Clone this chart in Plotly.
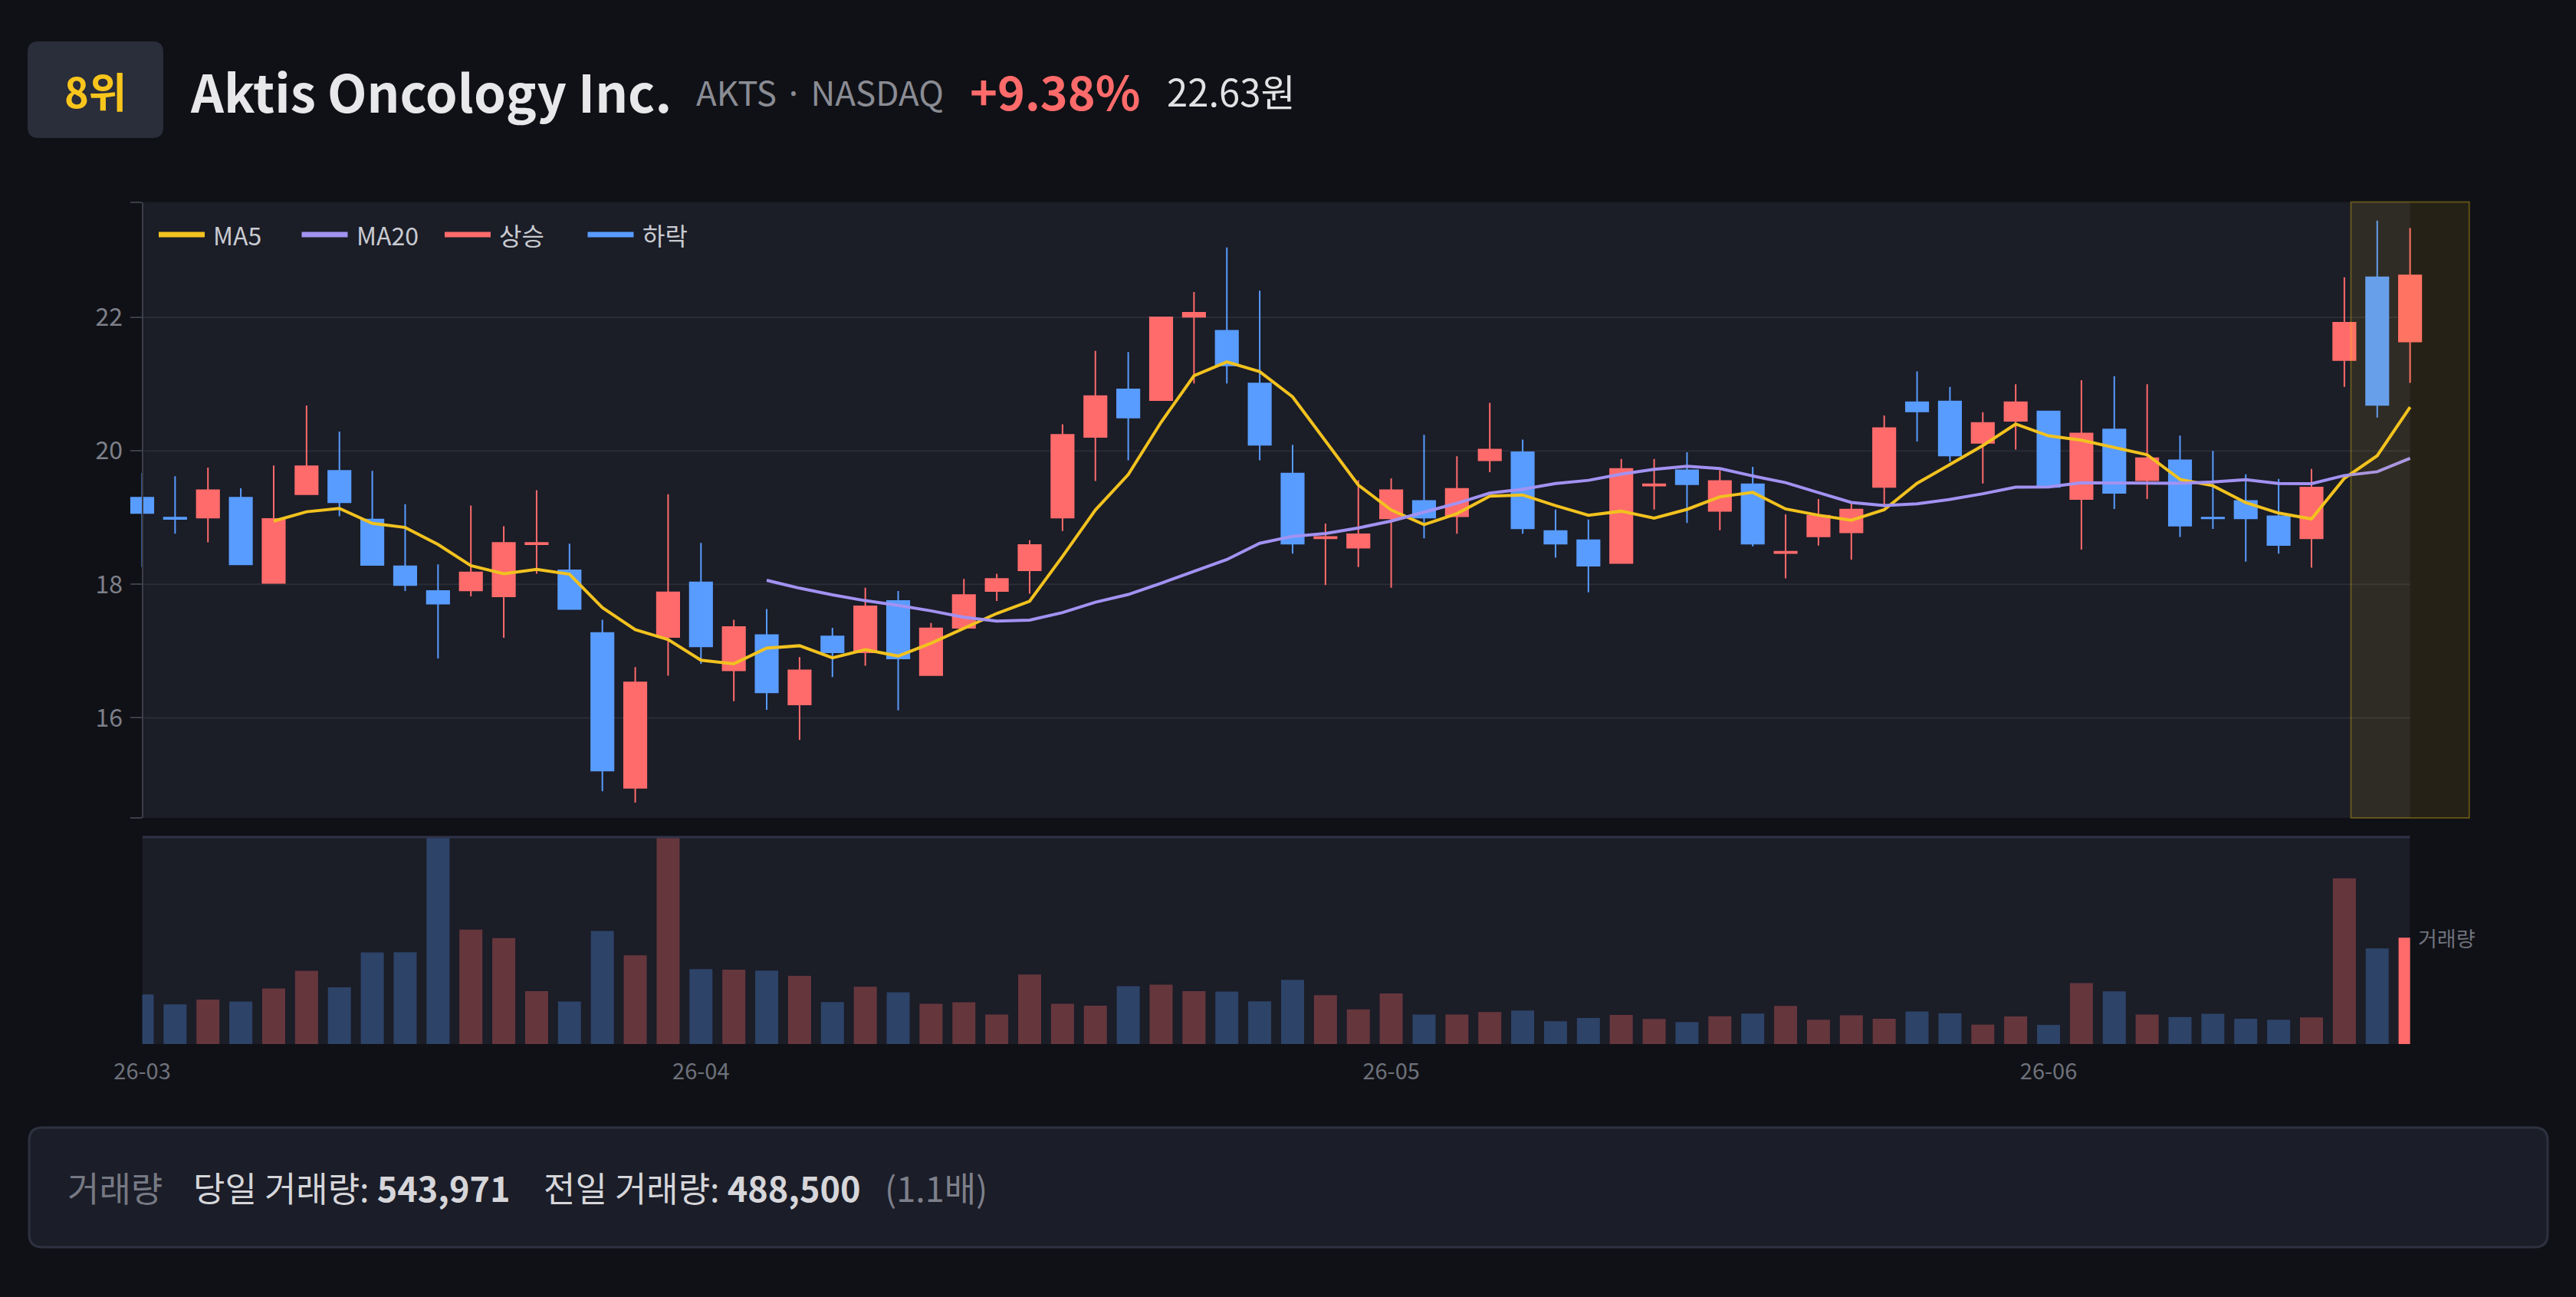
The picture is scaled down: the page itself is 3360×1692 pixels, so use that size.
import pandas as pd
import plotly.graph_objects as go

# ---- data ------------------------------------------------------------------
# trading days 2026-03-09 .. 2026-06-16 (Good Friday and Memorial Day closed)
holidays = ["2026-04-03", "2026-05-25"]
dates = [d.strftime("%Y-%m-%d") for d in pd.bdate_range("2026-03-09", "2026-06-16")
         if d.strftime("%Y-%m-%d") not in holidays]

open_ = [19.30, 19.00, 19.00, 19.30, 18.02, 19.35, 19.70, 18.97, 18.27, 17.90,
         17.91, 17.82, 18.60, 18.21, 17.27, 14.95, 17.21, 18.03, 16.71, 17.24,
         16.20, 17.22, 16.98, 17.75, 16.64, 17.35, 17.90, 18.21, 19.00, 20.21,
         20.92, 20.76, 22.01, 21.80, 21.01, 19.66, 18.69, 18.55, 18.99, 19.25,
         19.02, 19.86, 19.98, 18.80, 18.66, 18.32, 19.48, 19.71, 19.10, 19.50,
         18.47, 18.72, 18.78, 19.46, 20.73, 20.74, 20.12, 20.45, 20.59, 19.28,
         20.32, 19.56, 19.86, 19.00, 19.25, 19.02, 18.69, 21.36, 22.60, 21.64]
high = [19.67, 19.62, 19.75, 19.44, 19.78, 20.68, 20.29, 19.70, 19.20, 18.30,
        19.18, 18.87, 19.41, 18.61, 17.47, 16.76, 19.35, 18.62, 17.47, 17.63,
        16.91, 17.35, 17.95, 17.90, 17.42, 18.08, 18.16, 18.66, 20.40, 21.50,
        21.48, 22.01, 22.38, 23.05, 22.40, 20.09, 18.91, 19.56, 19.59, 20.24,
        19.92, 20.72, 20.17, 19.12, 18.97, 19.88, 19.88, 19.98, 19.71, 19.76,
        19.05, 19.28, 19.22, 20.53, 21.19, 20.96, 20.58, 21.00, 20.60, 21.06,
        21.12, 21.00, 20.23, 20.00, 19.65, 19.58, 19.73, 22.60, 23.45, 23.34]
low = [18.26, 18.76, 18.63, 18.29, 18.01, 19.34, 19.02, 18.28, 17.90, 16.89,
       17.82, 17.20, 18.16, 17.62, 14.90, 14.73, 16.63, 16.81, 16.25, 16.12,
       15.67, 16.61, 16.78, 16.11, 16.63, 17.34, 17.75, 17.86, 18.80, 19.55,
       19.86, 20.75, 21.01, 21.01, 19.86, 18.46, 17.99, 18.26, 17.95, 18.69,
       18.76, 19.68, 18.76, 18.40, 17.88, 18.31, 19.12, 18.92, 18.81, 18.57,
       18.09, 18.58, 18.37, 19.16, 20.14, 19.84, 19.51, 20.02, 19.45, 18.52,
       19.13, 19.28, 18.71, 18.83, 18.34, 18.46, 18.25, 20.96, 20.50, 21.02]
close = [19.07, 18.98, 19.41, 18.30, 18.98, 19.77, 19.23, 18.29, 17.99, 17.71,
         18.18, 18.62, 18.62, 17.63, 15.21, 16.53, 17.88, 17.07, 17.36, 16.38,
         16.71, 16.98, 17.67, 16.89, 17.34, 17.84, 18.08, 18.59, 20.24, 20.82,
         20.50, 22.00, 22.07, 21.28, 20.09, 18.61, 18.71, 18.75, 19.41, 19.00,
         19.43, 20.02, 18.84, 18.61, 18.28, 19.73, 19.50, 19.50, 19.55, 18.61,
         18.49, 19.03, 19.12, 20.34, 20.59, 19.93, 20.42, 20.73, 19.46, 20.26,
         19.37, 19.89, 18.88, 18.99, 18.99, 18.59, 19.45, 21.92, 20.69, 22.63]
volume = [253700, 202700, 227500, 217100, 283800, 374000, 290300, 468100, 469400, 1412000,
          584500, 541300, 270700, 217100, 578000, 453700, 1206000, 383100, 380500, 375300,
          349100, 214400, 292900, 264100, 205300, 213100, 150400, 355700, 205300, 196100,
          295500, 303400, 270700, 268100, 218400, 328200, 249800, 177800, 258900, 150400,
          150400, 163500, 171300, 116400, 133400, 149100, 128100, 112500, 142500, 155600,
          194800, 124200, 146500, 129500, 166100, 156900, 99400, 141200, 98100, 311200,
          269400, 150400, 138600, 154300, 129500, 124200, 136000, 847300, 488500, 543971]

price_ticks = [16, 18, 20, 22]
month_ticks = ["2026-03-09", "2026-04-01", "2026-05-01", "2026-06-01"]
month_labels = ["26-03", "26-04", "26-05", "26-06"]
legend_names = ["MA5", "MA20", "상승", "하락"]

rank = "8위"
company = "Aktis Oncology Inc."
ticker = "AKTS · NASDAQ"

# ---- style -----------------------------------------------------------------
W, H = 3360, 1692
FONT = "Noto Sans CJK KR"
BG = "#101116"
PANEL = "#1b1d27"
GRID = "#2a2d37"
AXIS = "#3b3e48"
TICK_COLOR = "#7d808a"
UP = "#ff6b6b"
DOWN = "#589cff"
UP_FADED = "rgba(255, 107, 107, 0.33)"
DOWN_FADED = "rgba(88, 156, 255, 0.30)"
MA5_COLOR = "#f2c21f"
MA20_COLOR = "#a292f2"
YELLOW = "#f8c51c"

# pixel layout of the two panels
X_FIRST, X_LAST = 185.5, 3143.6          # centres of first / last candle
PRICE_TOP, PRICE_BOT = 263.5, 1067
VOL_TOP, VOL_BOT = 1092, 1362
Y_MIN, Y_MAX = 14.5, 23.73
VOL_MAX = 1058000
PAD = 0.6

n = len(dates)
step = (X_LAST - X_FIRST) / (n - 1)


def px(x):
    return x / W


def py(y):
    return 1 - y / H


def idx_px(i):
    return X_FIRST + i * step


def rounded_rect(x0, y0, x1, y1, r):
    def p(x, y):
        return "{:.6f},{:.6f}".format(px(x), py(y))
    return ("M " + p(x0 + r, y0) + " L " + p(x1 - r, y0) + " Q " + p(x1, y0) + " " + p(x1, y0 + r)
            + " L " + p(x1, y1 - r) + " Q " + p(x1, y1) + " " + p(x1 - r, y1)
            + " L " + p(x0 + r, y1) + " Q " + p(x0, y1) + " " + p(x0, y1 - r)
            + " L " + p(x0, y0 + r) + " Q " + p(x0, y0) + " " + p(x0 + r, y0) + " Z")


s_close = pd.Series(close)
ma5 = s_close.rolling(5).mean()
ma20 = s_close.rolling(20).mean()

bar_colors = [UP_FADED if c >= o else DOWN_FADED for o, c in zip(open_, close)]
bar_colors[-1] = UP if close[-1] >= open_[-1] else DOWN

fig = go.Figure()

fig.add_trace(go.Candlestick(x=dates, open=open_, high=high, low=low, close=close,
                             increasing=dict(line=dict(color=UP, width=2), fillcolor=UP),
                             decreasing=dict(line=dict(color=DOWN, width=2), fillcolor=DOWN),
                             whiskerwidth=0, showlegend=False, xaxis="x", yaxis="y"))

fig.add_trace(go.Scatter(x=dates, y=ma5, mode="lines", line=dict(color=MA5_COLOR, width=4),
                         showlegend=False, xaxis="x", yaxis="y"))
fig.add_trace(go.Scatter(x=dates, y=ma20, mode="lines", line=dict(color=MA20_COLOR, width=4),
                         showlegend=False, xaxis="x", yaxis="y"))

fig.add_trace(go.Bar(x=dates, y=volume, marker=dict(color=bar_colors, line=dict(width=0)),
                     width=0.7, showlegend=False, xaxis="x2", yaxis="y2"))

shapes = []
# panel backgrounds
shapes.append(dict(type="rect", xref="x", yref="y domain", x0=0, x1=n - 1, y0=0, y1=1,
                   fillcolor=PANEL, line=dict(width=0), layer="below"))
shapes.append(dict(type="rect", xref="x2", yref="y2 domain", x0=0, x1=n - 1, y0=0, y1=1,
                   fillcolor=PANEL, line=dict(width=0), layer="below"))
# price grid
for v in price_ticks:
    shapes.append(dict(type="line", xref="x", yref="y", x0=0, x1=n - 1, y0=v, y1=v,
                       line=dict(color=GRID, width=2), layer="below"))
# volume panel top border
shapes.append(dict(type="line", xref="x2", yref="y2 domain", x0=0, x1=n - 1, y0=1, y1=1,
                   line=dict(color="#2f3347", width=3)))
# highlight box round the latest candle
shapes.append(dict(type="rect", xref="paper", yref="paper",
                   x0=px(idx_px(n - 1) - 1.8 * step), x1=px(idx_px(n - 1) + 1.8 * step),
                   y0=py(PRICE_BOT), y1=py(PRICE_TOP),
                   fillcolor="rgba(250, 204, 21, 0.09)",
                   line=dict(color="rgba(250, 204, 21, 0.30)", width=2)))
# header badge and footer card
shapes.append(dict(type="path", xref="paper", yref="paper",
                   path=rounded_rect(36, 54, 213, 180, 14),
                   fillcolor="#2a2d3a", line=dict(width=0)))
shapes.append(dict(type="path", xref="paper", yref="paper",
                   path=rounded_rect(38, 1471, 3323, 1627, 17),
                   fillcolor="#1b1d28", line=dict(color="#2e3140", width=3)))

# manual legend
legend_colors = [MA5_COLOR, MA20_COLOR, UP, DOWN]
annotations = []
for k, (name, col) in enumerate(zip(legend_names, legend_colors)):
    x0 = 207 + k * 186.5
    shapes.append(dict(type="line", xref="paper", yref="paper",
                       x0=px(x0), x1=px(x0 + 60), y0=py(306), y1=py(306),
                       line=dict(color=col, width=7)))
    annotations.append(dict(text=name, xref="paper", yref="paper", x=px(x0 + 69), y=py(306),
                            xanchor="left", yanchor="middle", showarrow=False,
                            font=dict(family=FONT, size=32, color="#c9cbd1")))

# header texts
pct = (close[-1] / close[-2] - 1) * 100
annotations += [
    dict(text="<b>{}</b>".format(rank), x=px(124.5), y=py(117), xanchor="center",
         font=dict(size=54, color=YELLOW)),
    dict(text="<b>{}</b>".format(company), x=px(246), y=py(117), xanchor="left",
         font=dict(size=67, color="#e8e8ea")),
    dict(text=ticker, x=px(906), y=py(119), xanchor="left",
         font=dict(size=44, color="#8a8c94")),
    dict(text="<b>{:+.2f}%</b>".format(pct), x=px(1263), y=py(117), xanchor="left",
         font=dict(size=61, color=UP)),
    dict(text="{:.2f}원".format(close[-1]), x=px(1520), y=py(117), xanchor="left",
         font=dict(size=49, color="#e2e2e4")),
]
# footer texts
today_vol, prev_vol = volume[-1], volume[-2]
footer = [
    ("거래량", 86, "#767983"),
    ("당일 거래량: <b>{:,}</b>".format(today_vol), 250, "#d6d6da"),
    ("전일 거래량: <b>{:,}</b>".format(prev_vol), 707, "#d6d6da"),
    ("({:.1f}배)".format(today_vol / prev_vol), 1152, "#7d808a"),
]
for text, x, col in footer:
    annotations.append(dict(text=text, x=px(x), y=py(1548), xanchor="left",
                            font=dict(size=45, color=col)))
for a in annotations[len(legend_names):]:
    a.update(xref="paper", yref="paper", yanchor="middle", showarrow=False)
    a["font"]["family"] = FONT

# volume label at the last bar
annotations.append(dict(text="거래량", xref="x2", yref="y2", x=dates[-1], y=volume[-1],
                        xanchor="left", yanchor="middle", xshift=8, showarrow=False,
                        font=dict(family=FONT, size=27, color="#6f727c")))

fig.update_layout(
    width=W, height=H,
    margin=dict(l=0, r=0, t=0, b=0, autoexpand=False),
    paper_bgcolor=BG, plot_bgcolor=BG,
    font=dict(family=FONT, color=TICK_COLOR, size=28),
    boxgap=0.32, boxgroupgap=0,
    showlegend=False,
    xaxis=dict(domain=[px(X_FIRST - PAD * step), px(X_LAST + PAD * step)], anchor="y",
               type="category", range=[-PAD, n - 1 + PAD], showticklabels=False,
               showgrid=False, zeroline=False, showline=False, automargin=False,
               rangeslider=dict(visible=False), fixedrange=True),
    yaxis=dict(domain=[py(PRICE_BOT), py(PRICE_TOP)], anchor="free", position=px(X_FIRST),
               range=[Y_MIN, Y_MAX], tickvals=[Y_MIN] + price_ticks + [Y_MAX],
               ticktext=[""] + [str(v) for v in price_ticks] + [""],
               showline=True, linecolor=AXIS, linewidth=2,
               ticks="outside", ticklen=15, tickwidth=2, tickcolor=AXIS,
               ticklabelstandoff=3, automargin=False,
               tickfont=dict(size=32, color=TICK_COLOR),
               showgrid=False, zeroline=False, fixedrange=True),
    xaxis2=dict(domain=[px(X_FIRST), px(X_LAST)], anchor="y2", type="category",
                range=[0, n - 1], tickvals=month_ticks, ticktext=month_labels,
                ticks="outside", ticklen=10, tickcolor="rgba(0,0,0,0)",
                tickfont=dict(size=29, color="#6e717b"), automargin=False,
                showgrid=False, zeroline=False, showline=False, fixedrange=True),
    yaxis2=dict(domain=[py(VOL_BOT), py(VOL_TOP)], anchor="x2", range=[0, VOL_MAX],
                visible=False, automargin=False, fixedrange=True),
    shapes=shapes,
    annotations=annotations,
)

fig.write_html("out.html", config={"displayModeBar": False},
               post_script="document.body.style.margin='0';document.body.style.overflow='hidden';")
